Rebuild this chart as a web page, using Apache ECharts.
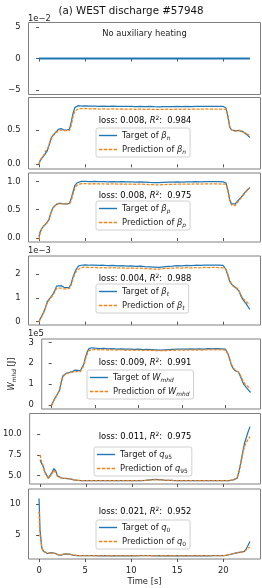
<!DOCTYPE html>
<html><head><meta charset="utf-8">
<script src="https://cdn.jsdelivr.net/npm/echarts@6/dist/echarts.min.js"></script>
<style>html,body{margin:0;padding:0;background:#fff}#c{width:262px;height:588px}</style>
</head><body><div id="c"></div>
<script>
// ---------- DATA ----------
const time = [0,0.1,0.3,0.5,0.7,0.9,1.1,1.3,1.5,1.7,1.9,2.1,2.4,2.7,3.0,3.3,3.5,3.7,3.9,4.1,4.3,4.6,5,5.5,6,6.5,7,7.5,8,8.5,9,9.5,10,10.5,11,11.5,12,12.5,13,13.5,14,14.5,15,15.5,16,16.5,17,17.5,18,18.5,19,19.5,20,20.3,20.5,20.7,20.9,21.1,21.3,21.5,21.7,21.9,22.1,22.3,22.5,22.7,22.9];
const auxTime = [0, 22.9];
const auxPower = [0, 0];

const betaNTarget = [0.01,0.05,0.09,0.12,0.16,0.20,0.28,0.38,0.42,0.45,0.48,0.51,0.52,0.50,0.50,0.51,0.62,0.75,0.83,0.85,0.855,0.85,
 0.852,0.848,0.85,0.846,0.848,0.845,0.847,0.844,0.846,0.843,0.845,0.842,0.844,0.841,0.843,0.84,0.838,0.84,0.842,0.84,0.843,0.841,0.844,0.842,0.845,0.843,0.846,0.844,0.846,0.845,0.843,
 0.82,0.70,0.54,0.50,0.48,0.49,0.50,0.49,0.47,0.48,0.46,0.44,0.42,0.39];
const betaNPred = [0.00,0.04,0.10,0.13,0.19,0.22,0.30,0.36,0.41,0.44,0.47,0.49,0.50,0.49,0.49,0.49,0.57,0.70,0.78,0.80,0.81,0.81,
 0.812,0.808,0.81,0.806,0.809,0.805,0.808,0.804,0.807,0.803,0.806,0.802,0.805,0.801,0.804,0.80,0.799,0.801,0.803,0.80,0.804,0.801,0.805,0.802,0.806,0.803,0.807,0.804,0.806,0.805,0.803,
 0.80,0.72,0.56,0.50,0.49,0.48,0.50,0.50,0.48,0.47,0.46,0.45,0.43,0.42];

const betaPTarget = [0.02,0.10,0.17,0.20,0.24,0.26,0.33,0.45,0.53,0.57,0.59,0.61,0.61,0.60,0.60,0.61,0.70,0.82,0.93,0.97,0.99,1.00,
 1.0,0.995,0.998,0.994,0.996,0.992,0.995,0.991,0.993,0.99,0.992,0.988,0.99,0.985,0.98,0.978,0.975,0.98,0.984,0.987,0.99,0.988,0.992,0.99,0.994,0.992,0.995,0.993,0.996,0.994,0.99,
 0.97,0.85,0.68,0.60,0.58,0.60,0.64,0.67,0.71,0.75,0.79,0.83,0.86,0.89];
const betaPPred = [-0.03,0.08,0.16,0.22,0.24,0.27,0.35,0.45,0.52,0.56,0.60,0.61,0.60,0.60,0.60,0.60,0.66,0.78,0.88,0.93,0.95,0.96,
 0.96,0.955,0.958,0.954,0.956,0.952,0.955,0.951,0.953,0.95,0.952,0.948,0.95,0.946,0.943,0.94,0.938,0.942,0.946,0.948,0.95,0.949,0.952,0.95,0.954,0.952,0.955,0.953,0.956,0.954,0.952,
 0.95,0.84,0.66,0.58,0.56,0.57,0.62,0.66,0.70,0.74,0.78,0.82,0.86,0.88];

// beta_t in units of 1e-3
const betaTTarget = [0.00,0.10,0.25,0.40,0.60,0.85,0.95,1.05,1.15,1.30,1.50,1.55,1.52,1.45,1.44,1.45,1.62,1.90,2.10,2.25,2.35,2.38,
 2.40,2.38,2.39,2.37,2.38,2.36,2.37,2.35,2.36,2.34,2.35,2.33,2.34,2.32,2.31,2.30,2.29,2.31,2.33,2.34,2.36,2.35,2.37,2.36,2.38,2.37,2.39,2.38,2.39,2.38,2.37,
 2.20,1.95,1.70,1.58,1.50,1.45,1.47,1.30,1.10,0.95,0.85,0.75,0.62,0.52];
const betaTPred = [-0.02,0.08,0.22,0.38,0.58,0.80,0.92,1.02,1.12,1.25,1.40,1.45,1.42,1.38,1.38,1.40,1.55,1.82,2.02,2.17,2.25,2.28,
 2.30,2.28,2.29,2.27,2.28,2.27,2.28,2.26,2.27,2.25,2.26,2.25,2.26,2.24,2.23,2.22,2.22,2.24,2.25,2.26,2.27,2.26,2.28,2.27,2.28,2.27,2.29,2.28,2.29,2.28,2.27,
 2.20,2.00,1.75,1.60,1.48,1.43,1.42,1.32,1.15,1.00,0.92,0.85,0.77,0.70];

// W_mhd in units of 1e5 J
const wmhdTarget = [0.00,0.10,0.27,0.40,0.55,0.70,1.10,1.40,1.48,1.52,1.55,1.57,1.60,1.67,1.66,1.64,1.70,1.95,2.30,2.55,2.70,2.74,
 2.72,2.70,2.71,2.69,2.70,2.68,2.69,2.67,2.68,2.66,2.67,2.65,2.66,2.65,2.64,2.63,2.64,2.65,2.66,2.67,2.68,2.67,2.69,2.68,2.69,2.68,2.70,2.69,2.70,2.69,2.68,
 2.45,2.20,1.90,1.75,1.65,1.60,1.58,1.40,1.20,1.00,0.90,0.80,0.70,0.60];
const wmhdPred = [-0.03,0.08,0.25,0.40,0.55,0.70,1.05,1.35,1.45,1.50,1.53,1.55,1.58,1.60,1.60,1.60,1.65,1.88,2.20,2.45,2.60,2.65,
 2.65,2.64,2.65,2.63,2.64,2.63,2.64,2.62,2.63,2.62,2.63,2.61,2.62,2.61,2.60,2.60,2.60,2.61,2.62,2.63,2.63,2.62,2.64,2.63,2.64,2.63,2.65,2.64,2.65,2.64,2.63,
 2.45,2.20,1.95,1.80,1.68,1.62,1.58,1.45,1.28,1.10,1.00,0.92,0.85,0.78];

const q95Target = [6.90,6.60,6.20,5.50,5.10,4.70,4.50,5.40,5.85,5.60,4.95,4.75,4.70,4.68,4.65,4.62,4.55,4.50,4.47,4.45,4.43,4.42,
 4.42,4.41,4.42,4.40,4.41,4.40,4.41,4.40,4.41,4.40,4.41,4.40,4.42,4.45,4.50,4.55,4.52,4.48,4.45,4.43,4.42,4.41,4.42,4.41,4.40,4.41,4.40,4.41,4.40,4.41,4.42,
 4.42,4.40,4.42,4.45,4.50,4.55,4.70,5.50,6.60,7.80,8.90,9.60,10.30,10.90];
const q95Pred = [7.50,6.90,6.30,5.40,5.00,4.65,4.45,5.20,5.70,5.50,4.90,4.70,4.70,4.68,4.66,4.63,4.56,4.50,4.46,4.44,4.42,4.41,
 4.41,4.42,4.41,4.41,4.40,4.41,4.40,4.41,4.40,4.41,4.40,4.41,4.42,4.44,4.48,4.52,4.50,4.47,4.44,4.42,4.41,4.42,4.41,4.42,4.41,4.40,4.41,4.40,4.41,4.42,4.42,
 4.41,4.42,4.43,4.46,4.52,4.58,4.75,5.50,6.50,7.60,8.50,9.00,9.40,9.70];

const q0Target = [10.90,6.00,2.90,2.40,2.20,2.05,2.00,2.20,2.30,2.10,1.90,1.85,1.80,1.95,2.00,1.95,1.90,1.80,1.75,1.74,1.73,1.72,
 1.72,1.71,1.72,1.70,1.71,1.70,1.71,1.70,1.71,1.70,1.71,1.70,1.71,1.72,1.71,1.70,1.71,1.70,1.71,1.70,1.71,1.70,1.71,1.70,1.71,1.70,1.71,1.70,1.71,1.72,1.73,
 1.75,1.80,1.90,2.00,2.05,2.10,2.20,2.25,2.30,2.30,2.40,2.80,3.40,4.00];
const q0Pred = [8.80,5.00,3.00,2.45,2.20,2.10,2.05,2.15,2.25,2.10,1.92,1.85,1.85,1.98,2.00,1.95,1.90,1.82,1.77,1.75,1.74,1.73,
 1.73,1.72,1.73,1.71,1.72,1.71,1.72,1.71,1.72,1.71,1.72,1.71,1.72,1.73,1.72,1.71,1.72,1.71,1.72,1.71,1.72,1.71,1.72,1.71,1.72,1.71,1.72,1.71,1.72,1.73,1.74,
 1.76,1.82,1.92,2.00,2.05,2.10,2.15,2.20,2.25,2.30,2.40,2.70,2.90,3.10];

const symbolBase = ['β','β','β','W','q','q'];
const symbolSub = ['n','p','t','mhd','95','0'];
const lossValues = ['0.008','0.008','0.004','0.009','0.011','0.021'];
const r2Values = ['0.984','0.975','0.988','0.991','0.975','0.952'];

const yTicks = [[-5,0,5],[0,0.5],[0,0.5,1],[0,1,2],[0,1,2,3],[5,7.5,10],[5,10]];
const yTickLabels = [['−5','0','5'],['0.0','0.5'],['0.0','0.5','1.0'],['0','1','2'],['0','1','2','3'],['5.0','7.5','10.0'],['5','10']];
const xTicks = [0,5,10,15,20];
const xTickLabels = ['0','5','10','15','20'];
const offsetTexts = ['1e−2', null, null, '1e−3', '1e5', null, null];

// ---------- LAYOUT ----------
const FONT = '"DejaVu Sans"';
const FS = 8.4, SUB = 5.9;
const BLUE = '#1f77b4', ORANGE = '#ff7f0e';
const gridLeft = 28.5, gridWidth = 232;
const gridTop = [22.5, 97.5, 173, 256, 339, 413.5, 489];
const gridH = [72, 71.5, 69, 69, 70, 70.5, 70];
const yMin = [-5.75, -0.0685, -0.071, -0.14, -0.19, 4.0, 1.18];
const yMax = [5.75, 0.974, 1.147, 2.77, 3.16, 12.48, 12.42];
const xMin = -1.145, xMax = 24.045;
const legendLeft = [96, 96, 96, 87, 94, 96];
const legendTop = [128, 201, 284, 370, 447, 520];
const lossY = [121, 195.7, 279, 363.3, 437.3, 512.3];
const offsetY = [19, 0, 0, 250.7, 334, 0, 0];
const ICON_SOLID = 'path://M0,0h18v1.4h-18z';
const ICON_DASH = 'path://M0,0h3.4v1.4h-3.4zM4.9,0h3.4v1.4h-3.4zM9.8,0h3.4v1.4h-3.4zM14.7,0h3.3v1.4h-3.3z';

const targets = [betaNTarget, betaPTarget, betaTTarget, wmhdTarget, q95Target, q0Target];
const preds = [betaNPred, betaPPred, betaTPred, wmhdPred, q95Pred, q0Pred];

const richStyles = {
  r: {fontFamily: FONT, fontSize: FS, color: '#222', lineHeight: 11},
  i: {fontFamily: FONT, fontSize: FS, color: '#222', fontStyle: 'italic', lineHeight: 11},
  si: {fontFamily: FONT, fontSize: SUB, color: '#222', fontStyle: 'italic', verticalAlign: 'bottom', lineHeight: 7},
  s: {fontFamily: FONT, fontSize: SUB, color: '#222', verticalAlign: 'bottom', lineHeight: 7},
  sup: {fontFamily: FONT, fontSize: SUB, color: '#222', verticalAlign: 'top', lineHeight: 7}
};
function subTag(k){ return /^[0-9]+$/.test(symbolSub[k]) ? 's' : 'si'; }

const grids = [], xAxes = [], yAxes = [], series = [], legends = [], graphics = [];
const richNames = {};
for (let g = 0; g < 7; g++) {
  grids.push({left: gridLeft, width: gridWidth, top: gridTop[g], height: gridH[g], show: true,
    borderColor: '#808080', borderWidth: 1, backgroundColor: 'transparent'});
  const last = g === 6;
  xAxes.push({type: 'value', gridIndex: g, min: xMin, max: xMax,
    axisLine: {show: false}, splitLine: {show: false},
    axisTick: {show: true, customValues: xTicks, length: 3, lineStyle: {color: '#555', width: 1}},
    axisLabel: {show: last, customValues: xTicks, margin: 8, fontFamily: FONT, fontSize: FS, color: '#222',
      formatter: v => xTickLabels[xTicks.indexOf(v)]},
    name: last ? 'Time [s]' : '', nameLocation: 'middle', nameGap: 19,
    nameTextStyle: {fontFamily: FONT, fontSize: FS, color: '#222'}});
  const yt = yTicks[g], yl = yTickLabels[g];
  const ya = {type: 'value', gridIndex: g, min: yMin[g], max: yMax[g],
    axisLine: {show: false}, splitLine: {show: false},
    axisTick: {show: true, customValues: yt, length: 3, lineStyle: {color: '#555', width: 1}},
    axisLabel: {customValues: yt, margin: 8, fontFamily: FONT, fontSize: FS, color: '#222',
      formatter: v => { const k = yt.findIndex(t => Math.abs(t - v) < 1e-9); return k >= 0 ? yl[k] : ''; }}};
  if (g === 4) {
    ya.name = '{i|W}{si|mhd}{r| [J]}';
    ya.nameLocation = 'middle'; ya.nameGap = 15; ya.nameRotate = 90;
    ya.nameTextStyle = {rich: richStyles};
  }
  yAxes.push(ya);
  if (offsetTexts[g]) {
    graphics.push({type: 'text', x: 28, y: offsetY[g], style: {text: offsetTexts[g], fontFamily: FONT, fontSize: FS,
      fill: '#222', align: 'left', verticalAlign: 'middle'}});
  }
}

series.push({type: 'line', name: 'aux', xAxisIndex: 0, yAxisIndex: 0, symbol: 'none', animation: false,
  data: auxTime.map((t, k) => [t, auxPower[k]]), lineStyle: {color: BLUE, width: 2}, itemStyle: {color: BLUE}});
graphics.push({type: 'text', x: 144.5, y: 33.5, style: {text: 'No auxiliary heating', fontFamily: FONT, fontSize: FS,
  fill: '#222', align: 'center', verticalAlign: 'middle'}});

for (let p = 0; p < 6; p++) {
  const g = p + 1;
  const nT = 'Target of ' + symbolBase[p] + '_' + symbolSub[p];
  const nP = 'Prediction of ' + symbolBase[p] + '_' + symbolSub[p];
  const st = subTag(p);
  richNames[nT] = '{r|Target of }{i|' + symbolBase[p] + '}{' + st + '|' + symbolSub[p] + '}';
  richNames[nP] = '{r|Prediction of }{i|' + symbolBase[p] + '}{' + st + '|' + symbolSub[p] + '}';
  series.push({type: 'line', name: nT, xAxisIndex: g, yAxisIndex: g, symbol: 'none', animation: false,
    data: time.map((t, k) => [t, targets[p][k]]), lineStyle: {color: BLUE, width: 1.25}, itemStyle: {color: BLUE}, z: 2});
  series.push({type: 'line', name: nP, xAxisIndex: g, yAxisIndex: g, symbol: 'none', animation: false,
    data: time.map((t, k) => [t, preds[p][k]]), lineStyle: {color: ORANGE, width: 1.25, type: [3, 1.5]}, itemStyle: {color: ORANGE}, z: 3});
  legends.push({orient: 'vertical', left: legendLeft[p], top: legendTop[p],
    data: [
      {name: nT, icon: ICON_SOLID, itemStyle: {color: BLUE, borderWidth: 0}, lineStyle: {color: BLUE}},
      {name: nP, icon: ICON_DASH, itemStyle: {color: ORANGE, borderWidth: 0}, lineStyle: {color: ORANGE}}],
    symbolKeepAspect: false,
    itemWidth: 18, itemHeight: 1.4, itemGap: 3, padding: [2, 4, 2, 3], selectedMode: false,
    backgroundColor: 'rgba(255,255,255,0.85)', borderColor: '#d0d0d0', borderWidth: 1, borderRadius: 2,
    textStyle: {fontFamily: FONT, fontSize: FS, color: '#222', lineHeight: 11, rich: richStyles},
    formatter: name => richNames[name]});
  graphics.push({type: 'text', x: 145, y: lossY[p], style: {
    text: '{r|loss: ' + lossValues[p] + ', }{i|R}{sup|2}{r|:  ' + r2Values[p] + '}',
    rich: richStyles, align: 'center', verticalAlign: 'middle'}});
}

graphics.forEach(o => o.z = 100);

const chart = echarts.init(document.getElementById('c'), null, {renderer: 'canvas'});
chart.setOption({
  animation: false,
  backgroundColor: '#fff',
  title: {text: '(a) WEST discharge #57948', left: 'center', top: 1,
    textStyle: {fontFamily: FONT, fontSize: 10.3, fontWeight: 'normal', color: '#111'}},
  grid: grids, xAxis: xAxes, yAxis: yAxes, series: series, legend: legends, graphic: graphics
});
</script></body></html>
